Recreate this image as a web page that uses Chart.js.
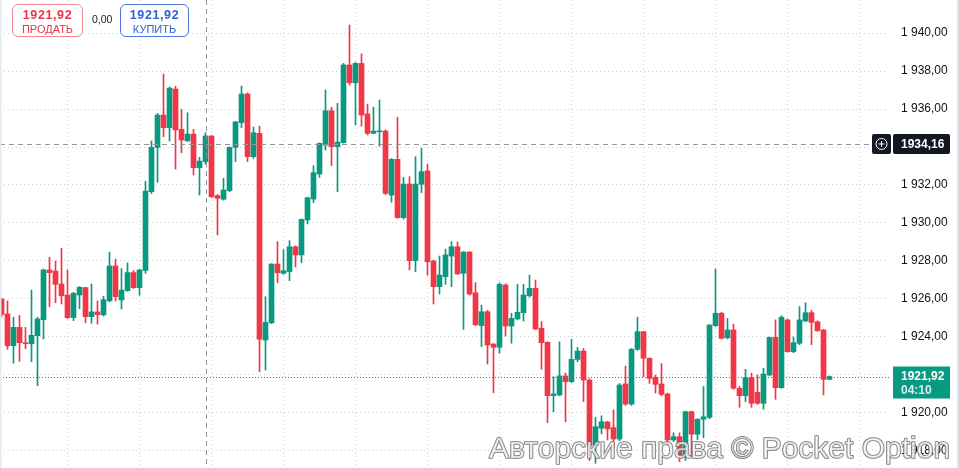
<!DOCTYPE html>
<html>
<head>
<meta charset="utf-8">
<script src="https://cdn.jsdelivr.net/npm/chart.js@4"></script>
<style>
  body { margin: 0; background: #fff; }
  #wrap { position: relative; width: 959px; height: 468px; overflow: hidden; }
  .tradebox {
    position: absolute; top: 4px; height: 31px; border: 1px solid; border-radius: 6px;
    background: #fff; text-align: center; font-family: "Liberation Sans", Arial, sans-serif;
  }
  .tradebox b { display: block; font-size: 12.5px; letter-spacing: 0.6px; margin-top: 3px; }
  .tradebox span { display: block; font-size: 11px; margin-top: 1px; }
  .sell { border-color: #ef8a95; color: #e5374a; }
  .buy { border-color: #4c78dc; color: #2f62d4; }
  .spread { position: absolute; left: 92px; top: 13px; font: 10.5px "Liberation Sans", Arial, sans-serif; color: #131722; }
</style>
</head>
<body>
<div id="wrap">
  <canvas id="chart"></canvas>
  <div class="tradebox sell" style="left:12px;width:69px"><b id="sellPrice"></b><span>ПРОДАТЬ</span></div>
  <div class="spread" id="spread"></div>
  <div class="tradebox buy" style="left:120px;width:67px"><b id="buyPrice"></b><span>КУПИТЬ</span></div>
</div>
<script>
// свечи, слева направо
const open = [
  1926.00, 1925.21, 1923.54, 1924.51, 1923.70, 1923.65, 1924.07, 1924.91, 1927.53, 1927.47,
  1926.79, 1926.21, 1925.02, 1926.21, 1926.60, 1925.07, 1925.32, 1925.17, 1925.90, 1927.74,
  1925.95, 1926.44, 1927.39, 1926.60, 1927.50, 1931.65, 1933.98, 1935.68, 1935.02, 1937.05,
  1934.93, 1934.32, 1934.68, 1932.91, 1933.23, 1934.58, 1931.44, 1931.25, 1931.70, 1933.98,
  1935.28, 1936.79, 1933.49, 1934.72, 1923.84, 1924.75, 1927.84, 1927.35, 1927.44, 1928.75,
  1928.32, 1930.16, 1931.26, 1932.58, 1934.10, 1935.91, 1934.02, 1934.23, 1938.32, 1937.38,
  1938.40, 1935.74, 1934.72, 1934.80, 1934.84, 1931.47, 1933.35, 1930.28, 1932.05, 1928.02,
  1932.04, 1932.74, 1928.00, 1926.65, 1927.17, 1928.26, 1928.75, 1927.35, 1928.47, 1926.33,
  1924.60, 1925.33, 1923.63, 1923.46, 1926.74, 1924.58, 1924.95, 1925.28, 1926.17, 1926.56,
  1924.46, 1923.72, 1920.91, 1920.95, 1921.95, 1921.65, 1922.82, 1923.26, 1921.74, 1918.30,
  1919.20, 1919.53, 1919.23, 1918.63, 1921.53, 1920.47, 1923.35, 1924.28, 1922.88, 1921.88,
  1921.53, 1921.00, 1918.58, 1918.75, 1917.79, 1920.07, 1918.88, 1919.67, 1919.77, 1924.60,
  1925.25, 1923.96, 1924.37, 1921.30, 1920.91, 1921.86, 1921.09, 1920.51, 1922.00, 1923.98,
  1921.33, 1924.90, 1923.23, 1923.67, 1924.84, 1925.28, 1924.80, 1924.37, 1921.77
];
const high = [
  1926.05, 1925.90, 1925.04, 1925.14, 1924.51, 1926.47, 1925.04, 1927.58, 1928.20, 1928.00,
  1928.67, 1927.53, 1926.35, 1926.65, 1926.62, 1926.79, 1925.90, 1926.15, 1928.47, 1928.10,
  1927.60, 1927.90, 1927.50, 1927.55, 1932.20, 1934.32, 1935.77, 1937.84, 1937.15, 1937.20,
  1935.98, 1935.80, 1934.93, 1933.46, 1934.75, 1934.60, 1931.50, 1932.35, 1934.00, 1935.35,
  1937.21, 1936.85, 1935.05, 1935.10, 1926.12, 1927.86, 1929.02, 1928.60, 1929.07, 1928.80,
  1930.22, 1931.36, 1933.02, 1934.22, 1937.00, 1936.09, 1936.30, 1938.40, 1940.42, 1938.45,
  1938.90, 1936.26, 1936.10, 1936.47, 1934.90, 1933.40, 1935.56, 1932.40, 1932.44, 1933.49,
  1933.93, 1933.10, 1928.05, 1928.26, 1928.63, 1929.02, 1929.00, 1928.50, 1928.50, 1926.86,
  1925.68, 1925.40, 1923.65, 1926.86, 1926.80, 1925.25, 1926.77, 1926.77, 1927.26, 1927.00,
  1924.81, 1923.75, 1921.91, 1923.75, 1922.10, 1923.88, 1923.45, 1923.40, 1921.80, 1919.77,
  1919.85, 1919.56, 1920.16, 1921.55, 1922.47, 1923.40, 1925.04, 1924.30, 1922.90, 1922.00,
  1922.60, 1921.05, 1918.96, 1918.95, 1920.10, 1920.10, 1919.70, 1921.39, 1924.65, 1927.58,
  1925.30, 1924.98, 1924.68, 1921.40, 1922.30, 1922.10, 1922.00, 1922.35, 1924.00, 1924.90,
  1925.12, 1924.95, 1924.00, 1925.60, 1925.80, 1925.40, 1924.85, 1924.40, 1921.95
];
const low = [
  1925.05, 1923.35, 1922.62, 1922.72, 1923.38, 1922.70, 1921.44, 1923.90, 1925.60, 1925.80,
  1925.74, 1924.98, 1924.86, 1925.49, 1924.75, 1924.72, 1924.68, 1925.10, 1925.85, 1925.90,
  1925.47, 1926.40, 1926.55, 1926.20, 1927.35, 1931.55, 1932.14, 1934.54, 1934.32, 1932.84,
  1933.70, 1934.30, 1932.53, 1931.47, 1933.10, 1931.35, 1929.37, 1931.20, 1931.65, 1933.23,
  1935.02, 1933.23, 1933.40, 1922.17, 1922.26, 1924.70, 1926.86, 1927.30, 1926.96, 1927.68,
  1927.91, 1929.95, 1931.07, 1932.40, 1933.84, 1933.02, 1931.65, 1934.20, 1937.26, 1935.16,
  1935.10, 1934.63, 1934.70, 1934.05, 1931.50, 1931.10, 1930.25, 1930.20, 1927.53, 1927.44,
  1931.60, 1927.26, 1925.74, 1926.26, 1926.77, 1926.65, 1927.30, 1924.40, 1926.20, 1924.60,
  1923.50, 1922.58, 1921.07, 1923.14, 1924.05, 1923.67, 1924.90, 1924.84, 1926.10, 1924.40,
  1922.30, 1919.49, 1920.07, 1920.90, 1919.54, 1921.60, 1922.70, 1920.60, 1917.50, 1917.35,
  1918.90, 1918.58, 1918.14, 1918.55, 1920.40, 1920.40, 1923.30, 1921.91, 1921.56, 1921.05,
  1920.90, 1918.30, 1918.50, 1917.44, 1917.50, 1917.70, 1918.60, 1918.70, 1919.70, 1924.55,
  1923.90, 1923.90, 1921.25, 1920.30, 1920.60, 1920.30, 1920.45, 1920.20, 1921.95, 1920.72,
  1921.30, 1923.20, 1923.17, 1923.60, 1924.80, 1923.60, 1924.30, 1920.95, 1921.75
];
const close = [
  1925.18, 1923.54, 1924.51, 1923.70, 1923.65, 1924.09, 1924.95, 1927.53, 1927.39, 1926.77,
  1926.17, 1925.02, 1926.30, 1926.62, 1925.07, 1925.32, 1925.17, 1925.96, 1927.74, 1926.12,
  1926.47, 1927.39, 1926.60, 1927.53, 1931.68, 1933.98, 1935.68, 1935.02, 1937.10, 1934.90,
  1934.37, 1934.68, 1932.91, 1933.26, 1934.58, 1931.38, 1931.30, 1931.74, 1933.98, 1935.32,
  1936.79, 1933.49, 1934.75, 1923.89, 1924.77, 1927.84, 1927.38, 1927.49, 1928.75, 1928.32,
  1930.19, 1931.33, 1932.65, 1934.19, 1935.91, 1934.02, 1934.26, 1938.32, 1937.38, 1938.40,
  1935.68, 1934.72, 1934.84, 1934.84, 1931.56, 1933.35, 1930.28, 1932.05, 1928.02, 1932.05,
  1932.70, 1927.96, 1926.65, 1927.26, 1928.32, 1928.75, 1927.32, 1928.47, 1926.26, 1924.65,
  1925.33, 1923.58, 1923.46, 1926.77, 1924.58, 1924.98, 1925.30, 1926.21, 1926.56, 1924.42,
  1923.70, 1920.91, 1921.00, 1921.95, 1921.65, 1922.82, 1923.26, 1921.74, 1918.30, 1919.28,
  1919.54, 1919.16, 1918.63, 1921.47, 1920.47, 1923.35, 1924.28, 1922.88, 1921.82, 1921.51,
  1920.98, 1918.58, 1918.75, 1917.79, 1920.07, 1918.89, 1919.67, 1919.80, 1924.63, 1925.25,
  1923.93, 1924.37, 1921.30, 1920.91, 1921.86, 1920.51, 1920.51, 1922.05, 1923.98, 1921.33,
  1925.04, 1923.23, 1923.70, 1924.90, 1925.28, 1924.77, 1924.33, 1921.77, 1921.92
];

// шкала цены
const yTicks = [1918, 1920, 1922, 1924, 1926, 1928, 1930, 1932, 1934, 1936, 1938, 1940];
// вертикальные линии сетки (номер свечи)
const xGridIdx = [5, 17, 29, 41, 53, 65, 77, 89, 101, 113, 125, 137];

const lastPrice = 1921.92;
const timer = '04:10';
const crossIdx = 34;
const crossPrice = 1934.16;
const spread = 0.00;

const UP = '#089981';
const DOWN = '#f23645';
const GRID = '#cdd1d8';

// видимая область
const yMax = 1941.737, yMin = 1917.105;
const xMin = -0.25, xMax = 147.75;

function fmt(v, sep) {
  const parts = v.toFixed(2).split('.');
  const int = sep ? parts[0].replace(/\B(?=(\d{3})+(?!\d))/g, ' ') : parts[0];
  return int + ',' + parts[1];
}

document.getElementById('sellPrice').innerText = fmt(lastPrice);
document.getElementById('buyPrice').innerText = fmt(lastPrice);
document.getElementById('spread').innerText = fmt(spread);

const idx = open.map((_, i) => i);
const candleColor = c => close[c.dataIndex] >= open[c.dataIndex] ? UP : DOWN;

const overlays = {
  id: 'overlays',
  beforeDatasetsDraw(chart) {
    const { ctx, chartArea, scales } = chart;
    const yLast = scales.y.getPixelForValue(lastPrice);
    ctx.save();
    ctx.strokeStyle = UP;
    ctx.lineWidth = 1;
    ctx.setLineDash([1, 2]);
    ctx.beginPath();
    ctx.moveTo(0, Math.round(yLast) + 0.5);
    ctx.lineTo(chartArea.right + 2, Math.round(yLast) + 0.5);
    ctx.stroke();
    ctx.restore();
  },
  afterDatasetsDraw(chart) {
    const { ctx, scales } = chart;
    const xc = Math.round(scales.x.getPixelForValue(crossIdx)) + 0.5;
    const yc = Math.round(scales.y.getPixelForValue(crossPrice)) + 0.5;
    ctx.save();
    ctx.strokeStyle = '#8f949e';
    ctx.lineWidth = 1;
    ctx.setLineDash([5, 4]);
    ctx.beginPath();
    ctx.moveTo(xc, 0);
    ctx.lineTo(xc, chart.height);
    ctx.moveTo(0, yc);
    ctx.lineTo(870, yc);
    ctx.stroke();
    ctx.restore();
  },
  afterDraw(chart) {
    const { ctx, scales } = chart;
    ctx.save();
    // края окна
    ctx.fillStyle = '#e6e8ec';
    ctx.fillRect(0, 0, 1.5, chart.height);
    ctx.fillStyle = '#e0e3eb';
    ctx.fillRect(957, 0, 2, chart.height);

    // метка перекрестия
    const yc = scales.y.getPixelForValue(crossPrice);
    ctx.fillStyle = '#131722';
    ctx.beginPath();
    ctx.roundRect(872, yc - 10, 19, 20, 2);
    ctx.roundRect(893, yc - 10, 57, 20, 2);
    ctx.fill();
    ctx.strokeStyle = '#fff';
    ctx.lineWidth = 1;
    ctx.beginPath();
    ctx.arc(881.5, yc, 5.5, 0, Math.PI * 2);
    ctx.moveTo(878.5, yc); ctx.lineTo(884.5, yc);
    ctx.moveTo(881.5, yc - 3); ctx.lineTo(881.5, yc + 3);
    ctx.stroke();
    ctx.fillStyle = '#fff';
    ctx.font = 'bold 12px "Liberation Sans", Arial, sans-serif';
    ctx.textBaseline = 'middle';
    ctx.fillText(fmt(crossPrice), 901, yc + 0.5);

    // текущая цена
    const yl = scales.y.getPixelForValue(lastPrice);
    ctx.fillStyle = UP;
    ctx.fillRect(893, yl - 10, 57, 32);
    ctx.fillStyle = '#fff';
    ctx.fillText(fmt(lastPrice), 901, yl);
    ctx.fillStyle = 'rgba(255,255,255,0.85)';
    ctx.fillText(timer, 901, yl + 14);

    // водяной знак
    ctx.font = '30px "Liberation Sans", Arial, sans-serif';
    ctx.textBaseline = 'alphabetic';
    ctx.lineJoin = 'round';
    ctx.fillStyle = 'rgba(255,255,255,0.72)';
    ctx.strokeStyle = 'rgba(105,105,105,0.9)';
    ctx.lineWidth = 1.6;
    const wm = 'Авторские права © Pocket Option';
    ctx.strokeText(wm, 489, 458);
    ctx.fillText(wm, 489, 458);
    ctx.restore();
  }
};

new Chart(document.getElementById('chart'), {
  type: 'bar',
  data: {
    datasets: [
      {
        label: 'wick',
        data: idx.map(i => ({ x: i, y: [low[i], high[i]] })),
        backgroundColor: candleColor,
        grouped: false,
        categoryPercentage: 1,
        barPercentage: 1,
        maxBarThickness: 1,
        order: 2
      },
      {
        label: 'body',
        data: idx.map(i => ({ x: i, y: [open[i], close[i]] })),
        backgroundColor: candleColor,
        grouped: false,
        categoryPercentage: 1,
        barPercentage: 1,
        maxBarThickness: 5,
        minBarLength: 1,
        order: 1
      }
    ]
  },
  options: {
    responsive: true,
    maintainAspectRatio: false,
    animation: false,
    layout: { padding: 0 },
    plugins: { legend: { display: false }, tooltip: { enabled: false } },
    scales: {
      x: {
        type: 'linear',
        min: xMin,
        max: xMax,
        offset: false,
        afterBuildTicks: s => { s.ticks = xGridIdx.map(v => ({ value: v })); },
        afterFit: s => { s.height = 0; },
        ticks: { display: false },
        grid: { color: GRID, drawTicks: false },
        border: { display: false, dash: [1, 3] }
      },
      y: {
        position: 'right',
        min: yMin,
        max: yMax,
        afterBuildTicks: s => { s.ticks = yTicks.map(v => ({ value: v })); },
        afterFit: s => { s.width = 71; },
        ticks: {
          // отрицательный отступ убирает поля сверху и снизу, сдвиг вправо даёт tickLength
          padding: -7.2,
          color: '#0e1118',
          font: { family: '"Liberation Sans", Arial, sans-serif', size: 12, lineHeight: 1.2 },
          callback: v => fmt(v, true)
        },
        grid: { color: GRID, drawTicks: true, tickLength: 20.2, tickColor: 'rgba(0,0,0,0)' },
        border: { display: false, dash: [1, 3] }
      }
    }
  },
  plugins: [overlays]
});
</script>
</body>
</html>
